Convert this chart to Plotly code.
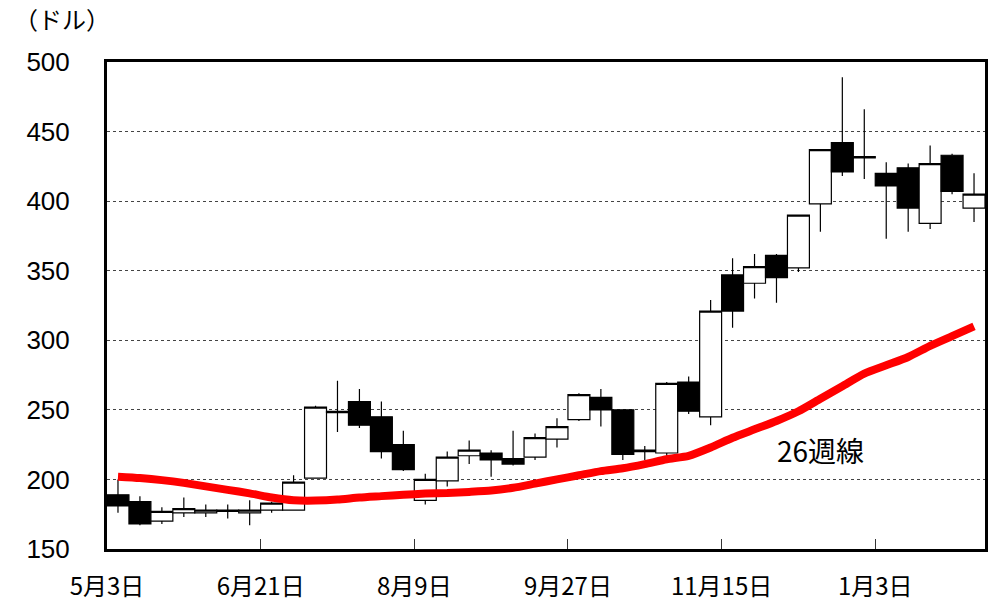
import plotly.graph_objects as go

# ---- data (weekly candles) ----
week_index = list(range(40))
open_ = [189, 184, 170, 176, 176, 177, 176, 178, 178, 201,
         248, 256, 245, 225, 185, 199, 217, 219, 215, 216,
         229, 243, 259, 250, 221, 219, 270, 245, 347, 341,
         361, 352, 398, 442, 432, 420, 424, 384, 433, 395]
high = [200, 188, 180, 187, 182, 182, 185, 184, 203, 253,
        271, 265, 256, 235, 204, 220, 228, 221, 235, 233,
        244, 262, 265, 250, 224, 270, 274, 329, 359, 362,
        362, 390, 437, 489, 466, 428, 427, 440, 434, 420]
low = [176, 167, 168, 173, 173, 172, 167, 176, 178, 201,
       234, 237, 215, 206, 182, 195, 211, 202, 210, 214,
       223, 242, 238, 214, 214, 215, 247, 239, 309, 330,
       327, 349, 378, 418, 416, 373, 378, 380, 405, 385]
close = [181, 168, 177, 179, 178, 178, 178, 183, 198, 252,
         249, 239, 220, 207, 200, 216, 221, 214, 211, 230,
         238, 261, 250, 218, 220, 269, 249, 321, 321, 353,
         345, 390, 437, 421, 431, 411, 395, 427, 407, 405]
ma26 = [202, 201, 199.5, 197.5, 195, 192.5, 190, 187, 185, 184.8,
        185.5, 187, 188, 189, 189.8, 190.2, 191, 192, 194, 197,
        200, 203, 206, 208, 211, 214.5, 217, 223, 230, 236,
        242, 249, 258, 267, 276, 282, 288, 296, 303, 310]

tick_positions = [0, 7, 14, 21, 28, 35]
tick_labels = ["5月3日", "6月21日", "8月9日", "9月27日", "11月15日", "1月3日"]
y_ticks = [150, 200, 250, 300, 350, 400, 450, 500]

x_centers = [i + 0.5 for i in week_index]

fig = go.Figure()

fig.add_trace(go.Candlestick(
    x=x_centers, open=open_, high=high, low=low, close=close,
    increasing=dict(fillcolor="white", line=dict(color="black", width=1.2)),
    decreasing=dict(fillcolor="black", line=dict(color="black", width=1.2)),
    whiskerwidth=0,
    showlegend=False,
))

fig.add_trace(go.Scatter(
    x=x_centers, y=ma26, mode="lines",
    line=dict(color="#ff0000", width=8, shape="spline", smoothing=0.6),
    showlegend=False, hoverinfo="skip",
))

fig.add_annotation(x=32.5, y=221, xref="x", yref="y", text="26週線",
                   showarrow=False, font=dict(family="Noto Sans CJK JP", size=28, color="black"))

fig.add_annotation(x=-0.051, y=1.09, xref="paper", yref="paper", text="（ドル）",
                   showarrow=False, xanchor="center", yanchor="middle",
                   font=dict(family="Noto Sans CJK JP", size=24, color="black"))

fig.update_layout(
    template="none",
    width=994, height=603,
    margin=dict(l=107, r=9, t=62, b=54, pad=0),
    paper_bgcolor="white", plot_bgcolor="white",
    boxgap=0, boxgroupgap=0,
    xaxis=dict(
        automargin=False,
        range=[0, 40], tickvals=tick_positions, ticktext=tick_labels,
        showgrid=False, zeroline=False,
        showline=True, mirror=True, linecolor="black", linewidth=3,
        ticks="inside", ticklen=10, tickwidth=1, tickcolor="#333",
        ticklabelstandoff=14,
        tickfont=dict(family="Noto Sans CJK JP", size=24, color="black"),
        rangeslider=dict(visible=False), fixedrange=True,
    ),
    yaxis=dict(
        automargin=False,
        range=[150, 500], tickvals=y_ticks,
        showgrid=True, gridcolor="#444", griddash="dot", gridwidth=1,
        zeroline=False,
        showline=True, mirror=True, linecolor="black", linewidth=3,
        ticks="", ticklabelstandoff=29,
        tickfont=dict(family="Liberation Sans, Arial", size=26, color="black"),
        fixedrange=True,
    ),
)

fig.write_html(
    "out.html",
    config={"displayModeBar": False},
    post_script="document.body.style.margin='0';document.body.style.overflow='hidden';",
)
